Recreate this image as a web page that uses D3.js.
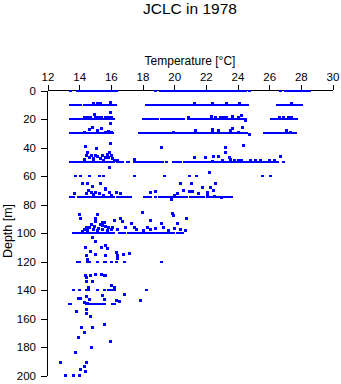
<!DOCTYPE html>
<html>
<head>
<meta charset="utf-8">
<script src="https://cdn.jsdelivr.net/npm/d3@7"></script>
<style>
  html, body { margin: 0; padding: 0; background: #fff; }
  svg { display: block; }
</style>
</head>
<body>
<script>
// ---------------- data ----------------
const titleText = "JCLC in 1978";
const xLabel = "Temperature [°C]";
const yLabel = "Depth [m]";
const xTicks = [12, 14, 16, 18, 20, 22, 24, 26, 28, 30];
const yTicks = [0, 20, 40, 60, 80, 100, 120, 140, 160, 180, 200];

// temperatures observed at standard depths
const row0 = [13.45, 13.85, 14.0, 14.15, 14.3, 14.45, 14.6, 14.75, 14.9, 15.05, 15.2, 15.35, 15.5, 15.65, 15.8, 15.95, 16.1, 16.25, 16.35, 18.8, 19.1, 19.25, 19.4, 19.55, 19.7, 19.85, 20.0, 20.15, 20.3, 20.45, 20.6, 20.75, 20.9, 21.05, 21.2, 21.35, 21.5, 21.65, 21.8, 21.95, 22.1, 22.25, 22.4, 22.55, 22.7, 22.85, 23.05, 23.2, 23.35, 23.5, 23.65, 23.8, 23.95, 24.1, 24.25, 24.4, 24.5, 24.75, 26.7, 27.0, 27.15, 27.3, 27.45, 27.6, 27.75, 27.9, 28.05, 28.2, 28.35, 28.5];
const row10 = [13.45, 13.6, 13.75, 13.87, 14.05, 14.3, 14.45, 14.6, 14.75, 14.9, 15.05, 15.2, 15.35, 15.5, 15.65, 15.8, 15.95, 16.1, 16.25, 18.2, 18.3, 18.5, 18.65, 18.8, 18.95, 19.1, 19.25, 19.4, 19.55, 19.7, 19.85, 20.0, 20.15, 20.3, 20.45, 20.6, 20.8, 20.95, 21.1, 21.25, 21.4, 21.55, 21.7, 21.85, 22.0, 22.15, 22.3, 22.45, 22.6, 22.75, 22.9, 23.1, 23.25, 23.4, 23.55, 23.7, 23.85, 24.0, 24.15, 24.3, 24.45, 24.6, 26.5, 26.65, 26.8, 26.95, 27.1, 27.25, 27.4, 27.55, 27.7, 27.85, 28.0];
const row20 = [13.45, 13.6, 13.75, 13.9, 14.05, 14.2, 14.35, 14.5, 14.65, 14.8, 14.95, 15.1, 15.25, 15.4, 15.55, 15.7, 15.85, 16.0, 16.15, 18.0, 18.15, 18.3, 18.45, 18.6, 18.75, 18.9, 19.15, 19.3, 19.45, 19.6, 19.75, 19.9, 20.1, 20.25, 20.4, 20.55, 20.85, 21.0, 21.15, 21.3, 21.45, 21.6, 21.75, 21.9, 22.05, 22.2, 22.35, 22.5, 22.65, 22.8, 22.95, 23.1, 23.25, 23.4, 23.55, 23.7, 23.85, 24.0, 24.15, 24.3, 24.5, 26.1, 26.3, 26.45, 26.6, 26.75, 26.9, 27.05, 27.2, 27.35, 27.5, 27.7];
const row30 = [13.45, 13.6, 13.75, 13.9, 14.05, 14.2, 14.35, 14.5, 14.65, 14.8, 14.95, 15.1, 15.25, 15.4, 15.55, 15.7, 15.85, 16.0, 16.1, 17.8, 17.95, 18.1, 18.25, 18.4, 18.55, 18.7, 18.85, 19.0, 19.15, 19.3, 19.45, 19.6, 19.75, 19.95, 20.1, 20.25, 20.4, 20.55, 20.75, 20.95, 21.1, 21.25, 21.4, 21.55, 21.7, 21.85, 22.0, 22.15, 22.3, 22.45, 22.6, 22.75, 22.9, 23.05, 23.2, 23.35, 23.5, 23.65, 23.8, 23.95, 24.1, 24.3, 24.45, 24.55, 25.7, 25.85, 26.0, 26.15, 26.3, 26.45, 26.6, 26.75, 26.9, 27.05, 27.2, 27.35, 27.5, 27.6];
const row50 = [13.45, 13.6, 13.75, 13.9, 14.05, 14.2, 14.35, 14.5, 14.65, 14.8, 14.95, 15.1, 15.25, 15.4, 15.55, 15.7, 15.85, 16.0, 16.15, 16.4, 16.55, 16.7, 17.0, 17.1, 17.45, 17.6, 17.75, 17.9, 18.05, 18.2, 18.3, 18.5, 18.65, 18.8, 18.95, 19.1, 19.2, 19.5, 19.9, 20.05, 20.2, 20.35, 20.6, 20.75, 20.9, 21.05, 21.2, 21.35, 21.5, 21.65, 21.8, 21.95, 22.1, 22.25, 22.4, 22.55, 22.75, 22.9, 23.05, 23.2, 23.35, 23.5, 23.65, 23.8, 23.95, 24.1, 24.25, 24.4, 24.55, 24.7, 24.85, 25.0, 25.15, 25.3, 25.45, 25.6, 25.75, 25.9, 26.05, 26.2, 26.35, 26.5, 26.85];
const row60 = [13.72, 14.08, 14.6, 15.24, 15.5, 17.45, 19.35, 20.93, 21.4, 25.56, 26.04];
const row75 = [13.45, 13.6, 13.9, 14.05, 14.2, 14.35, 14.5, 14.65, 14.8, 14.95, 15.1, 15.25, 15.4, 15.55, 15.7, 15.85, 16.0, 16.15, 16.4, 16.55, 16.7, 16.85, 17.0, 17.2, 18.08, 18.3, 18.46, 18.82, 19.05, 19.2, 19.35, 19.5, 19.65, 19.8, 19.95, 20.1, 20.25, 20.4, 20.55, 20.75, 20.97, 21.1, 21.25, 21.4, 21.55, 21.7, 21.85, 22.05, 22.2, 22.35, 22.5, 22.7, 22.85, 23.0, 23.15, 23.3, 23.45, 23.6];
const row100 = [13.6, 13.75, 13.9, 14.05, 14.2, 14.35, 14.5, 14.65, 14.8, 14.95, 15.1, 15.25, 15.4, 15.55, 15.7, 15.8, 16.0, 16.15, 16.5, 16.65, 16.8, 17.1, 17.3, 17.45, 17.6, 17.75, 17.9, 18.05, 18.2, 18.35, 18.5, 18.65, 18.8, 18.9, 19.1, 19.25, 19.4, 19.55, 19.7, 19.85, 19.95, 20.2, 20.35, 20.5];
const row120 = [13.88, 13.98, 14.51, 14.61, 15.14, 15.56, 15.66, 15.98, 16.3, 16.82, 19.14];
const row140 = [13.6, 14.02, 14.4, 14.55, 15.14, 15.56, 15.83, 16.02, 16.19, 18.23];
const row150 = [13.35, 13.45, 14.4, 14.53, 14.65, 14.78, 14.9, 15.03, 15.16, 15.35, 15.56, 16.09, 16.19];

// other observations: [temperature, depth]
const scatter = [
  [15.96, 7.8], [14.9, 9], [15.1, 9], [15.3, 9], [21.24, 9], [22.4, 9], [23.3, 9], [24.1, 9], [27.4, 9],
  [14.3, 18.8], [14.5, 18.3], [14.7, 18.8], [14.92, 16.7], [15.0, 18.3], [15.2, 18.8], [15.4, 18.3], [15.6, 18.8], [15.8, 18.3], [16.0, 18.8],
  [15.96, 15.3], [15.96, 23], [20.9, 18.8], [22.34, 17.7], [22.6, 18.5], [22.9, 18.8], [23.1, 18.5], [23.3, 18.8], [23.67, 18], [24.2, 17.3], [24.0, 18.8], [24.5, 20.5],
  [26.6, 18.8], [26.9, 18.5], [27.2, 18.8], [27.4, 18.5],
  [14.8, 25.4], [14.6, 27.3], [15.1, 28], [15.4, 26], [14.3, 28.8], [15.6, 28.8], [15.8, 28.5], [16.0, 28.8],
  [21.29, 27.7], [22.4, 27], [22.4, 28.5], [22.78, 27.7], [23.5, 27.7], [23.67, 26], [24.26, 25.8], [24.0, 28.8], [27.05, 27.7], [27.3, 28.8], [24.7, 30.5], [19.9, 28.8],
  [15.92, 36.6], [14.34, 39], [15.07, 40], [19.18, 39.9], [23.2, 39.4], [24.36, 38.2], [14.5, 42.9], [15.9, 43], [23.24, 43],
  [14.4, 45.3], [14.6, 46.5], [14.75, 45], [14.9, 47.5], [15.0, 45.5], [15.15, 46], [15.3, 47.5], [15.45, 45.5], [15.6, 47], [15.75, 44.5], [15.85, 46.5], [16.0, 45.5], [16.1, 47.5],
  [14.3, 48.3], [14.85, 48.5], [15.5, 48.5], [16.2, 48.8], [16.4, 48.5], [17.45, 48.3], [15.9, 54],
  [21.24, 46.9], [21.94, 46.9], [22.44, 46], [22.76, 46], [23.45, 46.5], [23.5, 48], [23.03, 48.5], [22.4, 49.5], [23.8, 48.5], [24.0, 48.5], [24.2, 48.5],
  [24.78, 48.5], [25.1, 49], [25.45, 49], [25.98, 49], [26.3, 49], [26.68, 46], [22.19, 57],
  [14.2, 65], [14.5, 65], [14.82, 67], [15.3, 65], [15.66, 68.5], [13.7, 72.2], [14.4, 72.2], [14.55, 69.5], [14.72, 71], [15.03, 71], [15.24, 72.2], [15.66, 69],
  [15.87, 71], [15.98, 73.4], [14.9, 72.5], [15.5, 73], [16.3, 71.5], [16.6, 72.2], [18.5, 71], [18.82, 70.5],
  [20.36, 65], [21.08, 65], [22.61, 65], [20.55, 70], [20.93, 70.5], [21.14, 70.5], [21.77, 68], [22.25, 68], [22.44, 70], [21.5, 72], [22.09, 72.5], [22.09, 71],
  [19.98, 73.5], [20.15, 72], [22.93, 74.5], [22.5, 74], [19.81, 76.4],
  [13.98, 86.9], [14.08, 89.7], [15.14, 86.9], [14.97, 89.7], [15.46, 92], [15.46, 94.5], [16.19, 91], [16.61, 89.7], [16.72, 91.5], [17.29, 93], [17.45, 95.5],
  [17.98, 85], [18.5, 90.7], [18.3, 95.5], [19.18, 93], [18.82, 96.5], [19.88, 86], [19.94, 87.5], [20.19, 93], [20.76, 89.7], [20.7, 97.9],
  [14.3, 97], [14.4, 95.5], [14.5, 98], [14.6, 96], [14.75, 94], [14.85, 97.5], [14.95, 95], [15.1, 98], [15.2, 96.5], [15.3, 93.5], [15.45, 97.5], [15.6, 95],
  [15.75, 98], [15.85, 96], [16.0, 97.5], [16.1, 95.5], [14.2, 98.5], [15.0, 91.5], [15.55, 92], [16.4, 97], [16.9, 96], [17.6, 97.5], [18.0, 98], [18.5, 97],
  [19.3, 96], [19.6, 98], [20.0, 96.5], [20.4, 97.5],
  [14.82, 102.6], [15.03, 105.4], [14.36, 109.6], [14.67, 112.6], [14.46, 115.4], [14.99, 115], [15.35, 109.6], [15.66, 108.4], [15.73, 110.5], [15.66, 115.4],
  [16.3, 113], [16.4, 115.4], [16.78, 114.5], [17.14, 113.8], [14.51, 118.5], [16.36, 117.5],
  [14.36, 129.5], [14.43, 131], [14.67, 129.5], [15.03, 129], [15.35, 129], [15.56, 129.5], [15.66, 129.5], [14.46, 133.7], [14.82, 133.7], [15.98, 136.5], [16.19, 137.6], [14.55, 137.6],
  [14.46, 144.2], [15.46, 143.5], [16.82, 142.8], [13.91, 145.8], [14.08, 145.8], [14.65, 146.5], [15.56, 146], [16.3, 147], [16.5, 148], [17.83, 147],
  [14.29, 148.5], [14.51, 149],
  [13.83, 154.7], [14.44, 153.5], [14.44, 155.9], [14.67, 158],
  [14.13, 165.7], [14.82, 165.7], [15.56, 164],
  [14.29, 169.7], [13.94, 172.8], [15.94, 175.8], [14.72, 179.8], [13.71, 183.3],
  [12.82, 190.3], [14.4, 190.3], [14.29, 193.1], [14.08, 195.4], [14.36, 196.8],
  [13.09, 199.6], [13.62, 199.6], [13.98, 199.6]
];

const rows = [
  { depth: 0, temps: row0 }, { depth: 10, temps: row10 }, { depth: 20, temps: row20 },
  { depth: 30, temps: row30 }, { depth: 50, temps: row50 }, { depth: 60, temps: row60 },
  { depth: 75, temps: row75 }, { depth: 100, temps: row100 }, { depth: 120, temps: row120 },
  { depth: 140, temps: row140 }, { depth: 150, temps: row150 }
];
const points = [];
rows.forEach(r => r.temps.forEach(t => points.push({ t: t, d: r.depth, row: true })));
scatter.forEach(p => points.push({ t: p[0], d: p[1], row: false }));

// ---------------- drawing ----------------
const W = 341, H = 384;
const svg = d3.select("body").append("svg").attr("width", W).attr("height", H);

const x = d3.scaleLinear().domain([12, 30]).range([47.5, 332.5]);
const y = d3.scaleLinear().domain([0, 200]).range([90.5, 375.5]);

const tickFont = "'Liberation Sans Narrow', 'Arial Narrow', 'Liberation Sans', Arial, sans-serif";
const labFont = "'Liberation Sans', Arial, Helvetica, sans-serif";

// top axis
const gx = svg.append("g")
  .attr("transform", "translate(0,90)")
  .call(d3.axisTop(x).tickValues(xTicks).tickSize(5).tickSizeOuter(0).tickPadding(4).tickFormat(d3.format("d")));
gx.attr("shape-rendering", "crispEdges");
gx.selectAll("text").attr("font-family", tickFont).attr("font-size", "11.5px").attr("fill", "#000");
gx.selectAll("line, path").attr("stroke", "#000");

// left axis
const gy = svg.append("g")
  .attr("transform", "translate(47,0)")
  .call(d3.axisLeft(y).tickValues(yTicks).tickSize(6).tickSizeOuter(0).tickPadding(5).tickFormat(d3.format("d")));
gy.attr("shape-rendering", "crispEdges");
gy.selectAll("text").attr("font-family", tickFont).attr("font-size", "11.5px").attr("fill", "#000");
gy.selectAll("line, path").attr("stroke", "#000");

// points (drawn over the axes, as in the original)
svg.append("g")
  .attr("shape-rendering", "crispEdges")
  .selectAll("rect")
  .data(points)
  .join("rect")
  .attr("x", d => Math.round(x(d.t)) - 1)
  .attr("y", d => Math.round(y(d.d)) - 1)
  .attr("width", 3)
  .attr("height", d => d.row ? 2 : 3)
  .attr("fill", "#0000ff");

// title
svg.append("text")
  .attr("x", 190).attr("y", 14)
  .attr("text-anchor", "middle")
  .attr("font-family", labFont).attr("font-size", "15.5px")
  .text(titleText);

// x label
svg.append("text")
  .attr("x", 190).attr("y", 65)
  .attr("text-anchor", "middle")
  .attr("font-family", labFont).attr("font-size", "12px")
  .text(xLabel);

// y label
svg.append("text")
  .attr("transform", "translate(12,231) rotate(-90)")
  .attr("text-anchor", "middle")
  .attr("font-family", labFont).attr("font-size", "12.5px")
  .text(yLabel);
</script>
</body>
</html>
